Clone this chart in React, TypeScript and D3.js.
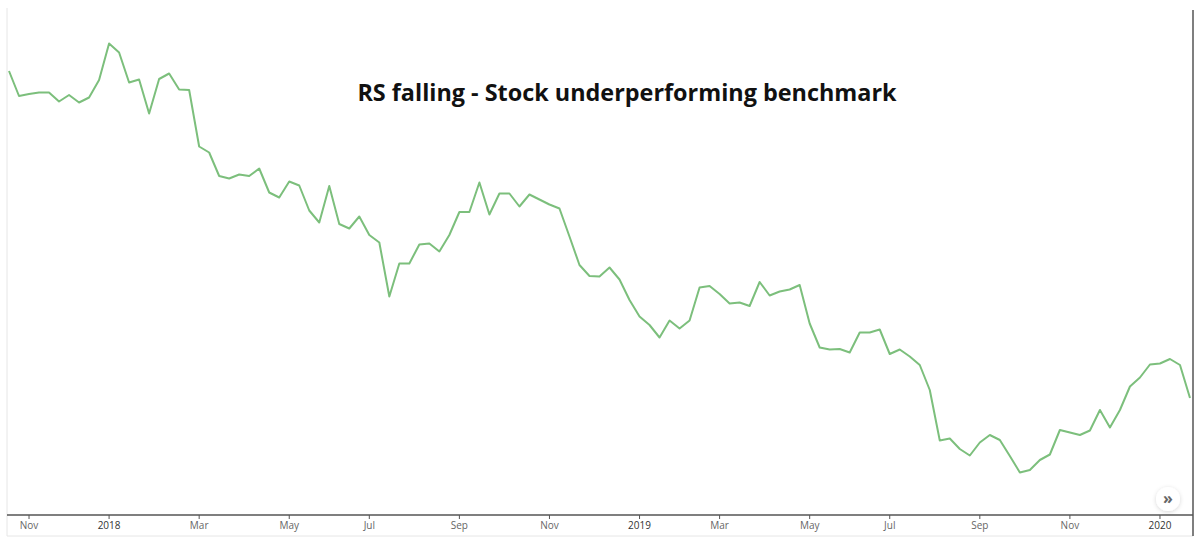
import React from "react";
import * as d3 from "d3";

const startDate = "2017-10-23"; // first weekly (Monday) observation
const rsValues: number[] = [
  88.8, 83.8, 84.2, 84.5, 84.5, 82.7, 84.0, 82.5, 83.5, 87.0,
  94.3, 92.5, 86.5, 87.1, 80.3, 87.2, 88.3, 85.1, 85.0, 73.7,
  72.5, 67.8, 67.3, 68.1, 67.8, 69.3, 64.5, 63.5, 66.7, 65.9,
  60.9, 58.5, 65.8, 58.2, 57.3, 59.7, 56.0, 54.5, 43.7, 50.3,
  50.3, 54.1, 54.3, 52.7, 56.0, 60.6, 60.6, 66.5, 60.1, 64.3,
  64.3, 61.7, 64.1, 63.1, 62.1, 61.3, 55.7, 50.0, 47.8, 47.7,
  49.5, 47.1, 43.0, 39.7, 38.0, 35.5, 38.9, 37.3, 38.9, 45.5,
  45.8, 44.2, 42.3, 42.5, 41.8, 46.6, 43.9, 44.7, 45.1, 46.0,
  38.3, 33.5, 33.1, 33.2, 32.5, 36.5, 36.5, 37.1, 32.2, 33.1,
  31.7, 30.0, 25.0, 14.9, 15.3, 13.2, 11.9, 14.5, 16.0, 15.0,
  11.8, 8.5, 9.0, 11.0, 12.1, 17.0, 16.5, 16.0, 16.9, 21.0,
  17.5, 21.0, 25.7, 27.5, 30.1, 30.3, 31.2, 30.0, 23.4,
];
const tickDates: string[] = [
  "2017-11-06", "2018-01-01", "2018-03-05", "2018-05-07", "2018-07-02",
  "2018-09-03", "2018-11-05", "2019-01-07", "2019-03-04", "2019-05-06",
  "2019-07-01", "2019-09-02", "2019-11-04", "2020-01-06",
];
const tickLabels: string[] = [
  "Nov", "2018", "Mar", "May", "Jul", "Sep", "Nov", "2019", "Mar", "May",
  "Jul", "Sep", "Nov", "2020",
];
const title = "RS falling - Stock underperforming benchmark";

const parse = d3.timeParse("%Y-%m-%d");

export default function App() {
  const W = 1200;
  const H = 556;
  const left = 7;
  const right = 1193;
  const axisY = 515;
  const bottom = 536;

  const start = parse(startDate) as Date;
  const dates = rsValues.map((_, i) => d3.timeWeek.offset(start, i));
  const data = dates.map((d, i) => ({ date: d, value: rsValues[i] }));

  const x = d3
    .scaleTime()
    .domain([dates[0], dates[dates.length - 1]])
    .range([9, 1190]);
  const y = d3.scaleLinear().domain([0, 100]).range([axisY, 15]);

  const line = d3
    .line<{ date: Date; value: number }>()
    .x((d) => x(d.date))
    .y((d) => y(d.value));

  const ticks = tickDates.map((t, i) => ({
    x: x(parse(t) as Date),
    label: tickLabels[i],
    year: /^\d{4}$/.test(tickLabels[i]),
  }));

  const font = "'Open Sans', 'Noto Sans', sans-serif";

  return (
    <div style={{ position: "absolute", left: 0, top: 0 }}>
      <svg width={W} height={H} style={{ display: "block", background: "#fff" }}>
        <defs>
          <clipPath id="plot">
            <rect x={left + 1} y={0} width={right - left - 1} height={axisY} />
          </clipPath>
          <filter id="shadow" x="-50%" y="-50%" width="200%" height="200%">
            <feDropShadow dx="0" dy="1" stdDeviation="2" floodColor="#000" floodOpacity="0.16" />
          </filter>
        </defs>
        {/* frame */}
        <line x1={left} x2={left} y1={8} y2={bottom} stroke="#e6e6e6" strokeWidth={1} />
        <line x1={left} x2={right} y1={bottom} y2={bottom} stroke="#e6e6e6" strokeWidth={1} />
        <line x1={right} x2={right} y1={10} y2={bottom} stroke="#555" strokeWidth={1.5} />
        {/* title */}
        <text
          x={627}
          y={101}
          textAnchor="middle"
          fontFamily={font}
          fontWeight={700}
          fontSize={23.4}
          fill="#111"
        >
          {title}
        </text>
        {/* line */}
        <g clipPath="url(#plot)">
          <path d={line(data) || ""} fill="none" stroke="#7cbf7c" strokeWidth={2} strokeLinejoin="round" />
        </g>
        {/* x axis */}
        <line x1={left} x2={right} y1={axisY} y2={axisY} stroke="#555" strokeWidth={1.5} />
        {ticks.map((t, i) => (
          <g key={i}>
            <line x1={t.x} x2={t.x} y1={axisY} y2={axisY + 4} stroke="#555" strokeWidth={1} />
            <text
              x={t.x}
              y={529}
              textAnchor="middle"
              fontFamily={font}
              fontSize={10}
              fill={t.year ? "#333" : "#666"}
            >
              {t.label}
            </text>
          </g>
        ))}
        {/* scroll button */}
        <g filter="url(#shadow)">
          <circle cx={1168} cy={499} r={12} fill="#fff" />
        </g>
        <text
          x={1168}
          y={504}
          textAnchor="middle"
          fontFamily={font}
          fontSize={16}
          fontWeight={700}
          fill="#666"
        >
          »
        </text>
      </svg>
    </div>
  );
}
